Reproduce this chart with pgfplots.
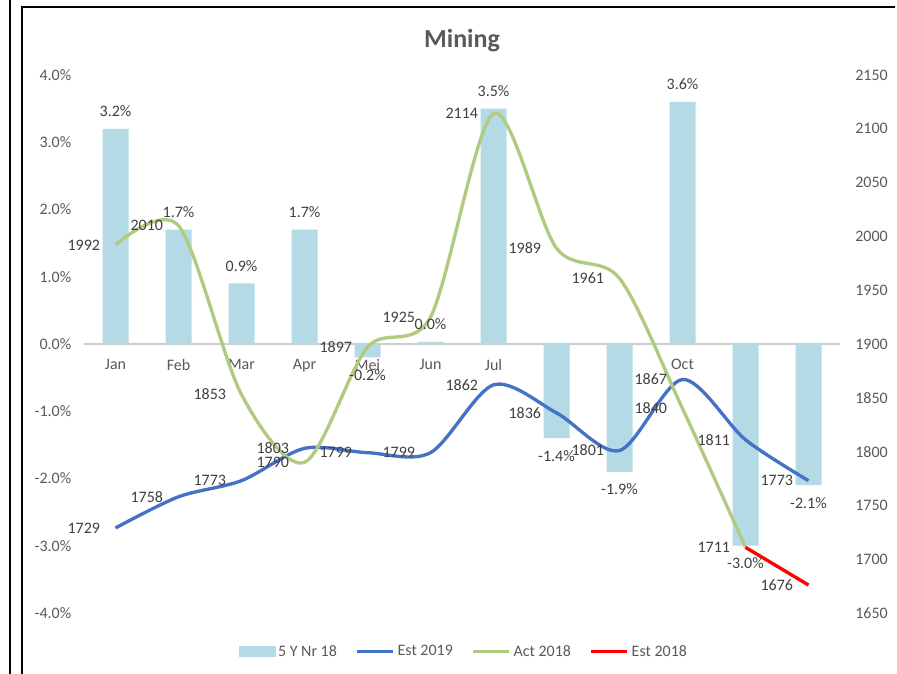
\documentclass[border=0pt]{standalone}
\usepackage{pgfplots}
\pgfplotsset{compat=1.18}
\usepackage{fontspec}
\setmainfont{Carlito}
\definecolor{barblue}{RGB}{180,218,230}
\definecolor{estblue}{RGB}{68,114,196}
\definecolor{actgreen}{RGB}{176,203,128}
\definecolor{txt}{RGB}{89,89,89}
\definecolor{lbl}{RGB}{64,64,64}
\pgfplotstableread{
x y
0 3.2
1 1.7
2 0.9
3 1.7
4 -0.2
5 0.03
6 3.5
7 -1.4
8 -1.9
9 3.6
10 -3.0
11 -2.1
}\bardata
\begin{document}
\begin{tikzpicture}
\useasboundingbox (0,0) rectangle (672.75pt,505.5pt);
\draw[line width=1.5pt] (7.5pt,-2pt) -- (7.5pt,507pt);
\draw[line width=1.5pt] (16.5pt,-2pt) -- (16.5pt,500.25pt) -- (671.25pt,500.25pt);
\pgfplotsset{
  common/.style={
    at={(63pt,45.75pt)}, anchor=south west,
    scale only axis, width=567pt, height=403.5pt,
    xmin=-0.5, xmax=11.5,
    major tick length=0pt,
    tick label style={font=\fontsize{12}{14}\selectfont, text=txt},
    /pgf/number format/assume math mode=true,
    /pgf/number format/1000 sep={},
  }
}
\begin{axis}[common,
  ymin=-4, ymax=4, ytick={-4,-3,...,4},
  axis x line*=middle, axis y line*=left,
  x axis line style={draw=black!20, line width=0.8pt, -},
  y axis line style={draw=none},
  xtick={0,...,11},
  xticklabels={Jan,Feb,Mar,Apr,Mei,Jun,Jul,Aug,Sep,Oct,Nov,Dec},
  xticklabel style={yshift=-8pt},
  yticklabel={\pgfmathprintnumber[fixed,fixed zerofill,precision=1]{\tick}\%},
  yticklabel style={xshift=-6pt},
  title={Mining},
  title style={at={(0.5,1)}, anchor=center, yshift=20pt, font=\fontsize{19.5}{22}\selectfont\bfseries, text=txt},
]
\addplot[ybar, bar width=19.5pt, fill=barblue, draw=none] table[x=x,y=y] {\bardata};
\end{axis}
\begin{axis}[common,
  ymin=1650, ymax=2150, ytick={1650,1700,...,2150},
  axis x line=none, axis y line*=right,
  y axis line style={draw=none},
  yticklabel style={xshift=8pt},
  legend columns=4,
  legend style={at={(0.503,-0.072)}, anchor=center, draw=none, fill=none,
    font=\fontsize{12}{14}\selectfont, text=txt,
    /tikz/every even column/.append style={column sep=12pt},
    inner sep=0pt},
  legend cell align=left,
]
\addlegendimage{legend image code/.code={\fill[barblue] (0pt,-3.75pt) rectangle (27pt,3.75pt);}}
\addlegendentry{5 Y Nr 18}
\pgfplotsset{every axis plot/.append style={
  legend image code/.code={\draw[#1] (0pt,0pt) -- (27pt,0pt);}}}
\addplot[smooth, estblue, line width=2.5pt, mark=none,
  nodes near coords, point meta=explicit symbolic,
  nodes near coords style={anchor=east, xshift=-7pt, font=\fontsize{12}{14}\selectfont, text=lbl}]
  coordinates {(0,1729)[1729] (1,1758)[1758] (2,1773)[1773] (3,1803)[1803] (4,1799)[1799] (5,1799)[1799] (6,1862)[1862] (7,1836)[1836] (8,1801)[1801] (9,1867)[1867] (10,1811)[1811] (11,1773)[1773]};
\addlegendentry{Est 2019}
\addplot[smooth, actgreen, line width=2.5pt, mark=none,
  nodes near coords, point meta=explicit symbolic,
  nodes near coords style={anchor=east, xshift=-7pt, font=\fontsize{12}{14}\selectfont, text=lbl}]
  coordinates {(0,1992)[1992] (1,2010)[2010] (2,1853)[1853] (3,1790)[1790] (4,1897)[1897] (5,1925)[1925] (6,2114)[2114] (7,1989)[1989] (8,1961)[1961] (9,1840)[1840] (10,1711)[1711]};
\addlegendentry{Act 2018}
\addplot[red, line width=2.5pt, mark=none,
  nodes near coords, point meta=explicit symbolic,
  nodes near coords style={anchor=east, xshift=-7pt, font=\fontsize{12}{14}\selectfont, text=lbl}]
  coordinates {(10,1711)[] (11,1676)[1676]};
\addlegendentry{Est 2018}
\end{axis}
\begin{axis}[common, ymin=-4, ymax=4, hide axis]
\addplot[ybar, bar width=19.5pt, fill=none, draw=none,
  nodes near coords={\pgfmathprintnumber[fixed,fixed zerofill,precision=1]{\pgfplotspointmeta}\%},
  nodes near coords style={font=\fontsize{12}{14}\selectfont, text=lbl, inner sep=9pt}]
  table[x=x,y=y] {\bardata};
\end{axis}
\end{tikzpicture}
\end{document}
